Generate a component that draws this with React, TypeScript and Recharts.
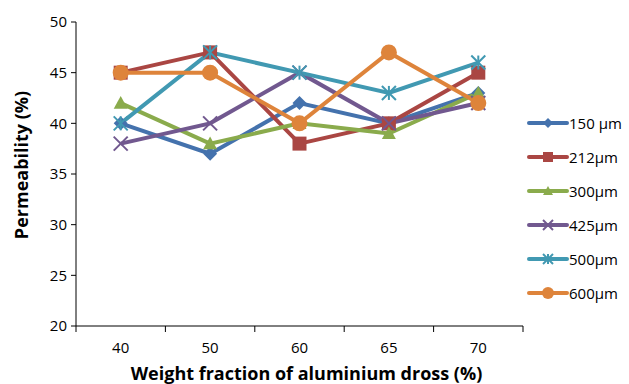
import React from 'react';
import { LineChart, Line, XAxis, YAxis, Legend } from 'recharts';

const categories = ['40', '50', '60', '65', '70'];
const s150 = [40, 37, 42, 40, 43];
const s212 = [45, 47, 38, 40, 45];
const s300 = [42, 38, 40, 39, 43];
const s425 = [38, 40, 45, 40, 42];
const s500 = [40, 47, 45, 43, 46];
const s600 = [45, 45, 40, 47, 42];
const yTicks = [20, 25, 30, 35, 40, 45, 50];

const data = categories.map((c, i) => ({
  pos: i + 0.5,
  label: c,
  s150: s150[i],
  s212: s212[i],
  s300: s300[i],
  s425: s425[i],
  s500: s500[i],
  s600: s600[i],
}));

const FONT = '"Open Sans", "Noto Sans", sans-serif';

type Marker = 'diamond' | 'square' | 'triangle' | 'x' | 'star' | 'circle';

const series: { key: string; name: string; color: string; marker: Marker }[] = [
  { key: 's150', name: '150 µm', color: '#4472AD', marker: 'diamond' },
  { key: 's212', name: '212µm', color: '#AA4643', marker: 'square' },
  { key: 's300', name: '300µm', color: '#8AAB4C', marker: 'triangle' },
  { key: 's425', name: '425µm', color: '#71588F', marker: 'x' },
  { key: 's500', name: '500µm', color: '#4199B2', marker: 'star' },
  { key: 's600', name: '600µm', color: '#DE843B', marker: 'circle' },
];

function drawMarker(m: Marker, cx: number, cy: number, color: string, s: number, key?: string) {
  switch (m) {
    case 'diamond':
      return <polygon key={key} points={`${cx},${cy - s} ${cx + s},${cy} ${cx},${cy + s} ${cx - s},${cy}`} fill={color} />;
    case 'square':
      return <rect key={key} x={cx - s} y={cy - s} width={2 * s} height={2 * s} fill={color} />;
    case 'triangle':
      return <polygon key={key} points={`${cx},${cy - s} ${cx + s},${cy + s * 0.8} ${cx - s},${cy + s * 0.8}`} fill={color} />;
    case 'x':
      return (
        <g key={key} stroke={color} strokeWidth={2}>
          <line x1={cx - s} y1={cy - s} x2={cx + s} y2={cy + s} />
          <line x1={cx - s} y1={cy + s} x2={cx + s} y2={cy - s} />
        </g>
      );
    case 'star':
      return (
        <g key={key} stroke={color} strokeWidth={2}>
          <line x1={cx - s} y1={cy - s} x2={cx + s} y2={cy + s} />
          <line x1={cx - s} y1={cy + s} x2={cx + s} y2={cy - s} />
          <line x1={cx} y1={cy - s} x2={cx} y2={cy + s} />
        </g>
      );
    case 'circle':
    default:
      return <circle key={key} cx={cx} cy={cy} r={s + 1} fill={color} />;
  }
}

const LegendContent = () => (
  <div style={{ fontFamily: FONT, fontSize: 15, color: '#000' }}>
    {series.map((s) => (
      <div key={s.key} style={{ height: 34, display: 'flex', alignItems: 'center' }}>
        <svg width={42} height={20} style={{ display: 'block' }}>
          <line x1={2} y1={10} x2={40} y2={10} stroke={s.color} strokeWidth={4} strokeLinecap="round" />
          {drawMarker(s.marker, 21, 10, s.color, 5)}
        </svg>
        <span style={{ marginLeft: 0 }}>{s.name}</span>
      </div>
    ))}
  </div>
);

// stable axis props (avoid re-registration reordering)
const X_DOMAIN: [number, number] = [0, 5];
const GRID_TICKS = [0, 1, 2, 3, 4, 5];
const CAT_TICKS = data.map((d) => d.pos);
const BLACK_LINE = { stroke: '#000', strokeWidth: 1 };
const TICK_STYLE = { fill: '#000', fontSize: 15, fontFamily: FONT };
const catFormatter = (v: number) => categories[Math.floor(v)];
const EmptyTick = () => <g />;

const XTitle = (p: any) => {
  const vb = p.viewBox || { x: 76, width: 447 };
  return (
    <text x={vb.x + vb.width / 2 + 7} y={380} textAnchor="middle" fontFamily={FONT} fontWeight="bold" fontSize={18} fill="#000">
      Weight fraction of aluminium dross (%)
    </text>
  );
};
const YTitle = (p: any) => {
  const vb = p.viewBox || { y: 22, height: 304 };
  const cy = vb.y + vb.height / 2 - 9;
  return (
    <text x={21} y={cy} transform={`rotate(-90 21 ${cy})`} textAnchor="middle" dominantBaseline="central" fontFamily={FONT} fontWeight="bold" fontSize={18} fill="#000">
      Permeability (%)
    </text>
  );
};
const X_LABEL = { content: XTitle };
const Y_LABEL = { content: YTitle };
const LEGEND_WRAPPER = { width: 102, top: 106, paddingLeft: 4, boxSizing: 'border-box' as const };
const MARGIN = { top: 22, right: 4, bottom: 0, left: 0 };

export default function App() {
  return (
    <div style={{ position: 'absolute', left: 0, top: 0, width: 629, height: 384, background: '#fff' }}>
      <LineChart width={629} height={384} data={data} margin={MARGIN}>
        <XAxis
          xAxisId="a"
          type="number"
          dataKey="pos"
          domain={X_DOMAIN}
          ticks={GRID_TICKS}
          tick={EmptyTick}
          tickLine={BLACK_LINE}
          tickSize={6}
          axisLine={BLACK_LINE}
          height={1}
        />
        <XAxis
          xAxisId="b"
          type="number"
          dataKey="pos"
          domain={X_DOMAIN}
          ticks={CAT_TICKS}
          tickFormatter={catFormatter}
          tickLine={false}
          axisLine={false}
          tick={TICK_STYLE}
          tickMargin={9}
          height={57}
          label={X_LABEL}
        />
        <YAxis
          domain={[20, 50]}
          ticks={yTicks}
          interval={0}
          width={76}
          tickSize={5}
          tickMargin={4}
          tickLine={BLACK_LINE}
          axisLine={BLACK_LINE}
          tick={TICK_STYLE}
          label={Y_LABEL}
        />
        <Legend
          layout="vertical"
          align="right"
          verticalAlign="top"
          content={<LegendContent />}
          wrapperStyle={LEGEND_WRAPPER}
        />
        {series.map((s) => (
          <Line
            key={s.key}
            xAxisId="b"
            type="linear"
            dataKey={s.key}
            name={s.name}
            stroke={s.color}
            strokeWidth={4}
            isAnimationActive={false}
            dot={(p: any) => drawMarker(s.marker, p.cx, p.cy, s.color, 7, `${s.key}-${p.index}`)}
            activeDot={false}
          />
        ))}
      </LineChart>
    </div>
  );
}
